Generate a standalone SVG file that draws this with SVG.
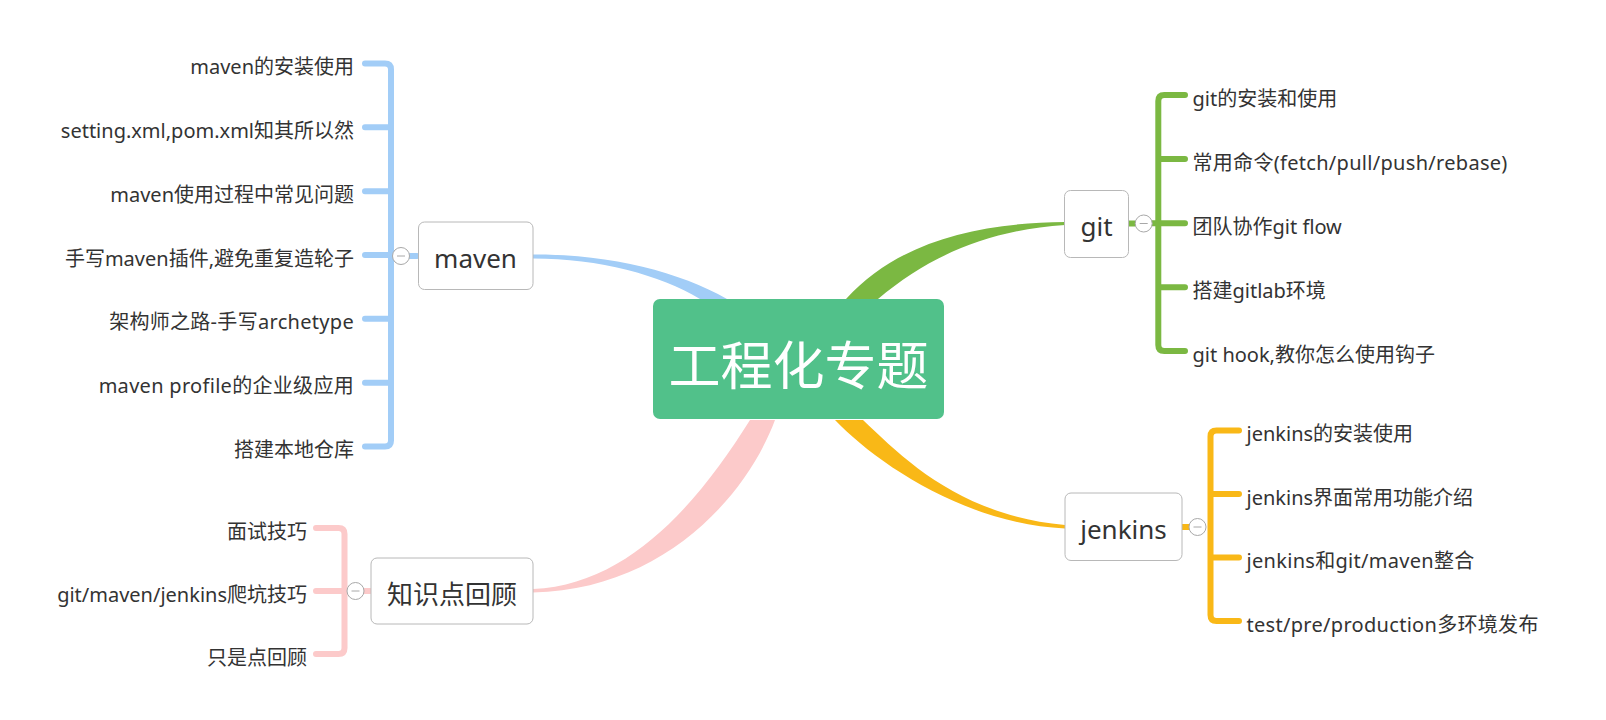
<svg xmlns="http://www.w3.org/2000/svg" width="1606" height="720" viewBox="0 0 1606 720">
<style>
.t{font-family:"Noto Sans","Noto Sans CJK SC",sans-serif;font-size:20px;fill:#333}
.lat{letter-spacing:0.3px}
.nt{font-family:"Noto Sans","Noto Sans CJK SC",sans-serif;font-size:26px;fill:#333;text-anchor:middle}
.end{text-anchor:end}
.box{fill:#fff;stroke:#b8b8b8;stroke-width:1}
.br{fill:none;stroke-width:6;stroke-linecap:round;stroke-linejoin:round}
.blue{stroke:#a2cdf7}
.pink{stroke:#fccaca}
.green{stroke:#7bb842}
.orange{stroke:#f9b817}
.cc{fill:#fff;stroke:#a8a8a8;stroke-width:1}
.cm{stroke:#a8a8a8;stroke-width:1}
</style>
<rect width="1606" height="720" fill="#fff"/>
<g id="connectors">
  <path d="M533,254.5 C610,254 680,272 727,299 L700,299 C660,275 600,258.5 533,258.5 Z" fill="#a2cdf7"/>
  <path d="M846,299 C900,240 980,223 1065,222 L1065,225 C990,230 930,255 878,299 Z" fill="#7bb842"/>
  <path d="M863,420 C905,460 960,515 1065,525 L1065,528.5 C965,524 875,462 835,420 Z" fill="#f9b817"/>
  <path d="M750,420 C700,500 630,585 533,589 L533,592.5 C660,590 745,500 775,420 Z" fill="#fccaca"/>
  <path class="br blue" d="M365,63.5 H385 Q391,63.5 391,69.5 V440.5 Q391,446.5 385,446.5 H365 M365,127.3 H391 M365,191.2 H391 M365,255 H391 M365,318.8 H391 M365,382.7 H391 M410,256 H417"/>
  <path class="br pink" d="M316,528 H338.5 Q344.5,528 344.5,534 V648 Q344.5,654 338.5,654 H316 M316,591 H344.5 M364,591 H370"/>
  <path class="br green" d="M1185,95 H1164.3 Q1158.3,95 1158.3,101 V345 Q1158.3,351 1164.3,351 H1185 M1185,159 H1158.3 M1150,223.3 H1185 M1185,287.3 H1158.3 M1129,223.5 H1135"/>
  <path class="br orange" d="M1239,430.5 H1216.5 Q1210.5,430.5 1210.5,436.5 V615 Q1210.5,621 1216.5,621 H1239 M1239,494 H1210.5 M1239,557.5 H1210.5 M1182,527 H1189"/>
</g>
<g id="center">
  <rect x="653" y="299" width="291" height="120" rx="7" fill="#51c18a"/>
  <text x="798.5" y="384.5" font-family="Noto Sans, Noto Sans CJK SC, sans-serif" font-size="52" fill="#fff" text-anchor="middle">工程化专题</text>
</g>
<g id="maven">
  <rect class="box" x="418.5" y="222" width="114.5" height="67.5" rx="6"/>
  <text class="nt" x="475.5" y="267.5">maven</text>
  <circle class="cc" cx="401" cy="256" r="8.5"/><line class="cm" x1="397" y1="256" x2="405" y2="256"/>
</g>
<g id="maven-children">
  <text class="t end" x="354" y="74">maven的安装使用</text>
  <text class="t end" x="354" y="137.8">setting.xml,pom.xml知其所以然</text>
  <text class="t end" x="354" y="201.7">maven使用过程中常见问题</text>
  <text class="t end" x="354" y="265.5">手写maven插件,避免重复造轮子</text>
  <text class="t end lat" x="354" y="329.3">架构师之路-手写archetype</text>
  <text class="t end lat" x="354" y="393.2">maven profile的企业级应用</text>
  <text class="t end" x="354" y="457">搭建本地仓库</text>
</g>
<g id="knowledge">
  <rect class="box" x="371" y="558" width="162" height="66" rx="6"/>
  <text class="nt" x="452" y="603.5">知识点回顾</text>
  <circle class="cc" cx="355.5" cy="591" r="8.5"/><line class="cm" x1="351.5" y1="591" x2="359.5" y2="591"/>
</g>
<g id="knowledge-children">
  <text class="t end" x="307" y="538.5">面试技巧</text>
  <text class="t end" x="307" y="601.5">git/maven/jenkins爬坑技巧</text>
  <text class="t end" x="307" y="664.5">只是点回顾</text>
</g>
<g id="git">
  <rect class="box" x="1064.5" y="190.5" width="64" height="67" rx="6"/>
  <text class="nt" x="1096.5" y="235.5">git</text>
  <circle class="cc" cx="1143.7" cy="223.5" r="8.5"/><line class="cm" x1="1139.7" y1="223.5" x2="1147.7" y2="223.5"/>
</g>
<g id="git-children">
  <text class="t" x="1192.5" y="105.5">git的安装和使用</text>
  <text class="t lat" x="1192.5" y="169.5">常用命令(fetch/pull/push/rebase)</text>
  <text class="t" x="1192.5" y="233.8">团队协作git flow</text>
  <text class="t" x="1192.5" y="297.8">搭建gitlab环境</text>
  <text class="t" x="1192.5" y="361.5">git hook,教你怎么使用钩子</text>
</g>
<g id="jenkins">
  <rect class="box" x="1065" y="493" width="117" height="67.5" rx="6"/>
  <text class="nt" x="1123.5" y="538.5">jenkins</text>
  <circle class="cc" cx="1197.5" cy="527" r="8.5"/><line class="cm" x1="1193.5" y1="527" x2="1201.5" y2="527"/>
</g>
<g id="jenkins-children">
  <text class="t" x="1246.5" y="441">jenkins的安装使用</text>
  <text class="t" x="1246.5" y="504.5">jenkins界面常用功能介绍</text>
  <text class="t lat" x="1246.5" y="568">jenkins和git/maven整合</text>
  <text class="t lat" x="1246.5" y="631.5">test/pre/production多环境发布</text>
</g>
</svg>
